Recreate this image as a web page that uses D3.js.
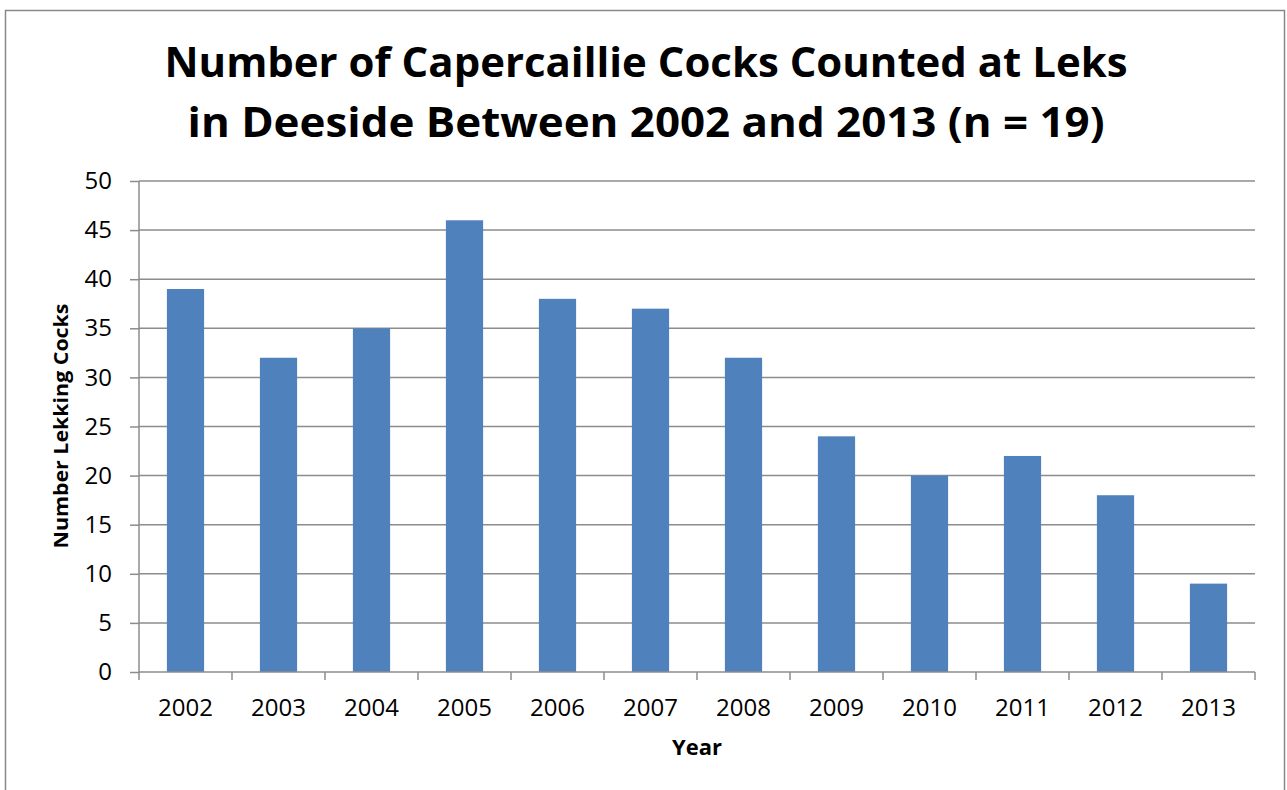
<!DOCTYPE html>
<html>
<head>
<meta charset="utf-8">
<script src="https://cdn.jsdelivr.net/npm/d3@7"></script>
<style>
  body { margin: 0; background: #fff; }
  svg { display: block; font-family: "Open Sans", Lato, sans-serif; }
</style>
</head>
<body>
<div id="chart"></div>
<script>
(function() {

    var width = 1287;
    var height = 790;

    var years = ["2002", "2003", "2004", "2005", "2006", "2007", "2008", "2009", "2010", "2011", "2012", "2013"];
    var cocks = [39, 32, 35, 46, 38, 37, 32, 24, 20, 22, 18, 9];
    var yTicks = [0, 5, 10, 15, 20, 25, 30, 35, 40, 45, 50];
    var titleLines = ["Number of Capercaillie Cocks Counted at Leks", "in Deeside Between 2002 and 2013 (n = 19)"];

    var plot = {left: 139, right: 1255, top: 181, bottom: 672};
    var gridColor = "#8c8c8c";

    var svg = d3.select("#chart")
        .append("svg")
        .attr("width", width)
        .attr("height", height);

    // outer chart border
    svg.append("rect")
        .attr("x", 5.5).attr("y", 10.5)
        .attr("width", 1279).attr("height", 800)
        .attr("fill", "none")
        .attr("stroke", "#888")
        .attr("stroke-width", 1.5);

    var x = d3.scaleBand()
        .domain(years)
        .range([plot.left, plot.right])
        .paddingInner(0.6)
        .paddingOuter(0.3);

    var y = d3.scaleLinear()
        .domain([0, 50])
        .range([plot.bottom, plot.top]);

    // gridlines
    svg.append("g").selectAll("line")
        .data(yTicks.filter(function (d) { return d > 0; }))
        .enter().append("line")
        .attr("x1", plot.left).attr("x2", plot.right)
        .attr("y1", function (d) { return y(d); })
        .attr("y2", function (d) { return y(d); })
        .attr("stroke", gridColor)
        .attr("stroke-width", 1.5);

    // bars
    svg.append("g").selectAll("rect")
        .data(cocks)
        .enter().append("rect")
        .attr("x", function (d, i) { return x(years[i]); })
        .attr("y", function (d) { return y(d); })
        .attr("width", x.bandwidth())
        .attr("height", function (d) { return y(0) - y(d); })
        .attr("fill", "#4f81bd");

    // y axis
    var yAxis = svg.append("g")
        .attr("transform", "translate(" + plot.left + ",0)")
        .call(d3.axisLeft(y).tickValues(yTicks).tickSize(9).tickPadding(18));

    // x axis, ticks sit at category boundaries
    var xAxis = svg.append("g")
        .attr("transform", "translate(0," + plot.bottom + ")")
        .call(d3.axisBottom(x).tickSize(0).tickPadding(27));

    xAxis.selectAll(".bound")
        .data(d3.range(years.length + 1))
        .enter().append("line")
        .attr("class", "bound")
        .attr("x1", function (i) { return plot.left + i * (plot.right - plot.left) / years.length; })
        .attr("x2", function (i) { return plot.left + i * (plot.right - plot.left) / years.length; })
        .attr("y1", 0).attr("y2", 8)
        .attr("stroke", gridColor)
        .attr("stroke-width", 1.5);

    [yAxis, xAxis].forEach(function (a) {
        a.select(".domain").attr("stroke", gridColor).attr("stroke-width", 1.5);
        a.selectAll(".tick line").attr("stroke", gridColor).attr("stroke-width", 1.5);
        a.selectAll("text").attr("font-size", 24).attr("fill", "#000")
            .attr("font-family", "'Open Sans', Lato, sans-serif");
    });
    yAxis.select(".domain").attr("d", "M0," + plot.top + "V" + plot.bottom);
    xAxis.select(".domain").attr("d", "M" + plot.left + ",0H" + plot.right);

    // title
    var titleWidths = [963, 917];
    svg.append("g").selectAll("text")
        .data(titleLines)
        .enter().append("text")
        .attr("x", 646)
        .attr("y", function (d, i) { return 77 + i * 60; })
        .attr("text-anchor", "middle")
        .attr("font-size", 42)
        .attr("font-weight", "bold")
        .attr("textLength", function (d, i) { return titleWidths[i]; })
        .attr("lengthAdjust", "spacingAndGlyphs")
        .text(function (d) { return d; });

    // axis titles
    svg.append("text")
        .attr("x", 697)
        .attr("y", 755)
        .attr("text-anchor", "middle")
        .attr("font-size", 22)
        .attr("font-weight", "bold")
        .text("Year");

    svg.append("text")
        .attr("transform", "translate(68,426) rotate(-90)")
        .attr("text-anchor", "middle")
        .attr("font-size", 20)
        .attr("font-weight", "bold")
        .attr("textLength", 245)
        .attr("lengthAdjust", "spacingAndGlyphs")
        .text("Number Lekking Cocks");

})();
</script>
</body>
</html>
